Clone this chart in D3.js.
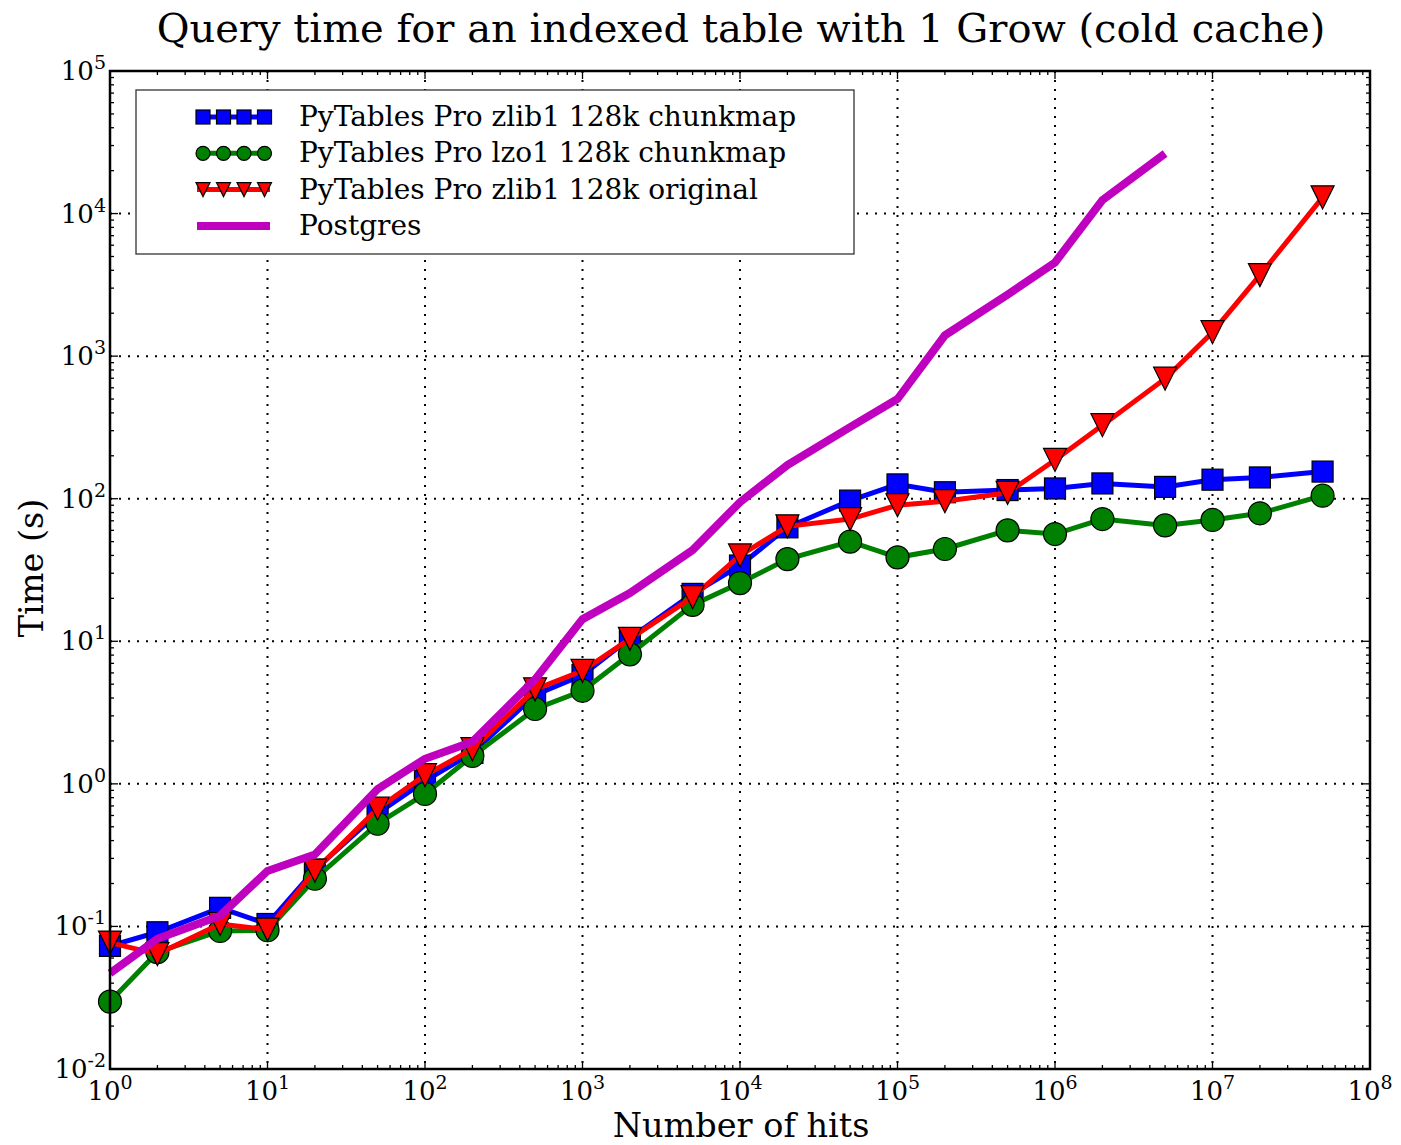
<!DOCTYPE html>
<html><head><meta charset="utf-8">
<script src="https://cdn.jsdelivr.net/npm/d3@7"></script>
<style>body{margin:0;background:#fff}svg{display:block}text{font-family:"DejaVu Serif",serif;fill:#000}</style>
</head><body>
<script>
const hits = [1,2,5,10,20,50,100,200,500,1000,2000,5000,1e4,2e4,5e4,1e5,2e5,5e5,1e6,2e6,5e6,1e7,2e7,5e7];
const zlibChunkmap = [0.073,0.091,0.135,0.104,0.25,0.62,1.05,1.65,4.2,5.8,10.5,21.5,34,63,97,126,111,115,118,128,121,136,141,155];
const lzoChunkmap  = [0.0297,0.066,0.093,0.094,0.216,0.525,0.85,1.57,3.35,4.5,8.1,18,25.6,37.7,50,38.8,44.4,60,56.5,72,65,71,79,105];
const zlibOriginal = [0.077,0.064,0.104,0.095,0.246,0.67,1.15,1.75,4.6,6.2,10.4,20.4,40,64,72,90,96,110,187,328,695,1472,3700,13000];
const postgres     = [0.047,0.082,0.119,0.245,0.32,0.92,1.5,1.97,5.4,14.3,21.8,43.6,94.6,172,318,500,1400,2700,4540,12450,26400];
const seriesNames = ["PyTables Pro zlib1 128k chunkmap","PyTables Pro lzo1 128k chunkmap","PyTables Pro zlib1 128k original","Postgres"];
const xTickExps = [0,1,2,3,4,5,6,7,8];
const yTickExps = [-2,-1,0,1,2,3,4,5];

const W=1401,H=1145, L=110,R=1370,T=71,B=1069;
const svg=d3.select("body").append("svg").attr("width",W).attr("height",H);
const x=d3.scaleLog().domain([1,1e8]).range([L,R]);
const y=d3.scaleLog().domain([1e-2,1e5]).range([B,T]);

// grid
const g=svg.append("g");
xTickExps.forEach(e=>{ if(e>0&&e<8) g.append("line").attr("x1",x(10**e)).attr("x2",x(10**e)).attr("y1",T).attr("y2",B).attr("stroke","#000").attr("stroke-width",2).attr("stroke-dasharray","2,7");});
yTickExps.forEach(e=>{ if(e>-2&&e<5) g.append("line").attr("x1",L).attr("x2",R).attr("y1",y(10**e)).attr("y2",y(10**e)).attr("stroke","#000").attr("stroke-width",2).attr("stroke-dasharray","2,7");});

// ticks (major+minor) on all four sides
const tg=svg.append("g").attr("stroke","#000").attr("stroke-width",1.3);
for(let e=0;e<8;e++){ for(let m=1;m<10;m++){ const v=m*10**e, px=x(v), len=m===1?8:4;
  tg.append("line").attr("x1",px).attr("x2",px).attr("y1",B).attr("y2",B-len);
  tg.append("line").attr("x1",px).attr("x2",px).attr("y1",T).attr("y2",T+len);}}
for(let e=-2;e<5;e++){ for(let m=1;m<10;m++){ const v=m*10**e, py=y(v), len=m===1?8:4;
  tg.append("line").attr("y1",py).attr("y2",py).attr("x1",L).attr("x2",L+len);
  tg.append("line").attr("y1",py).attr("y2",py).attr("x1",R).attr("x2",R-len);}}

// tick labels
xTickExps.forEach(e=>{ const t=svg.append("text").attr("x",x(10**e)).attr("y",1100).attr("text-anchor","middle").attr("font-size",26);
  t.append("tspan").text("10"); t.append("tspan").attr("dy",-11).attr("font-size",19).text(e);});
yTickExps.forEach(e=>{ const t=svg.append("text").attr("x",106).attr("y",y(10**e)+9).attr("text-anchor","end").attr("font-size",26);
  t.append("tspan").text("10"); t.append("tspan").attr("dy",-11).attr("font-size",19).text(e);});

// series
const sets=[
 {v:zlibChunkmap,c:"#0000ff",m:"square",w:5},
 {v:lzoChunkmap,c:"#008000",m:"circle",w:5},
 {v:zlibOriginal,c:"#ff0000",m:"tri",w:5},
 {v:postgres,c:"#bf00bf",m:null,w:8}];
function marker(sel,type,cx,cy,s,c){
  if(type==="square") sel.append("rect").attr("x",cx-s/2).attr("y",cy-s/2).attr("width",s).attr("height",s).attr("fill",c).attr("stroke","#000").attr("stroke-width",1.2);
  else if(type==="circle") sel.append("circle").attr("cx",cx).attr("cy",cy).attr("r",s/2).attr("fill",c).attr("stroke","#000").attr("stroke-width",1.2);
  else if(type==="tri") sel.append("path").attr("d",`M${cx-s/2},${cy-s/2}L${cx+s/2},${cy-s/2}L${cx},${cy+s/2}Z`).attr("fill",c).attr("stroke","#000").attr("stroke-width",1.2);
}
const plot=svg.append("g");
const line=d3.line().x(d=>x(d[0])).y(d=>y(d[1]));
sets.forEach(s=>{
  const pts=s.v.map((v,i)=>[hits[i],v]);
  plot.append("path").attr("d",line(pts)).attr("fill","none").attr("stroke",s.c).attr("stroke-width",s.w).attr("stroke-linejoin","miter");
  if(s.m){ const mg=plot.append("g"); pts.forEach(p=>marker(mg,s.m,x(p[0]),y(p[1]),s.m==="circle"?23:(s.m==="tri"?23:21),s.c)); }
});

// frame
svg.append("rect").attr("x",L).attr("y",T).attr("width",R-L).attr("height",B-T).attr("fill","none").attr("stroke","#000").attr("stroke-width",2.5);

// legend
const lg=svg.append("g");
lg.append("rect").attr("x",136).attr("y",90).attr("width",718).attr("height",164).attr("fill","#fff").attr("stroke","#333").attr("stroke-width",1.3);
sets.forEach((s,i)=>{ const ly=117+i*36.3;
  lg.append("line").attr("x1",197).attr("x2",270).attr("y1",ly).attr("y2",ly).attr("stroke",s.c).attr("stroke-width",s.w);
  if(s.m){ [203,223.5,244,264.5].forEach(cx=>marker(lg,s.m,cx,ly,14,s.c)); }
  lg.append("text").attr("x",299).attr("y",ly+9).attr("font-size",28).text(seriesNames[i]);
});

// titles
svg.append("text").attr("x",741).attr("y",42).attr("text-anchor","middle").attr("font-size",40).text("Query time for an indexed table with 1 Grow (cold cache)");
svg.append("text").attr("x",741).attr("y",1137).attr("text-anchor","middle").attr("font-size",33.5).text("Number of hits");
svg.append("text").attr("transform","translate(43,568) rotate(-90)").attr("text-anchor","middle").attr("font-size",33.5).text("Time (s)");
</script>
</body></html>
